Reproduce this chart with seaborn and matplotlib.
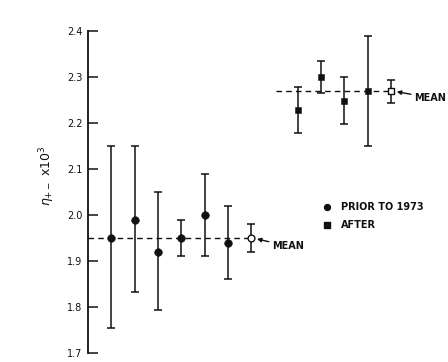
import matplotlib
matplotlib.use("Agg")
import matplotlib.pyplot as plt
import seaborn as sns
import pandas as pd

# Data
prior_x = [1, 2, 3, 4, 5, 6]
prior_y = [1.95, 1.99, 1.92, 1.95, 2.00, 1.94]
prior_lo = [1.754, 1.833, 1.793, 1.91, 1.91, 1.86]
prior_hi = [2.15, 2.15, 2.05, 1.99, 2.09, 2.02]
prior_mean_x = 7
prior_mean = 1.95
prior_mean_lo = 1.92
prior_mean_hi = 1.98

after_x = [9, 10, 11, 12]
after_y = [2.228, 2.299, 2.248, 2.27]
after_lo = [2.179, 2.266, 2.198, 2.149]
after_hi = [2.279, 2.335, 2.299, 2.39]
after_mean_x = 13
after_mean = 2.27
after_mean_lo = 2.243
after_mean_hi = 2.294

yticks = [1.7, 1.8, 1.9, 2.0, 2.1, 2.2, 2.3, 2.4]
ytick_labels = ["1.7", "1.8", "1.9", "2.0", "2.1", "2.2", "2.3", "2.4"]

sns.set_style("white")
plt.rcParams['font.family'] = ['DejaVu Sans']

fig = plt.figure(figsize=(4.48, 3.62), dpi=100)
ax = fig.add_axes([88/448, 9/362, 1 - 88/448, 322/362])
ax.set_xlim(0, 15.45)
ax.set_ylim(1.7, 2.4)

k = "#111111"

def ebars(x, y, lo, hi):
    yerr = [[v - l for v, l in zip(y, lo)], [h - v for v, h in zip(y, hi)]]
    ax.errorbar(x, y, yerr=yerr, fmt="none", ecolor=k, elinewidth=1.1,
                capsize=3, capthick=1.1, zorder=2)

# dashed mean lines
ax.hlines(prior_mean, 0, prior_mean_x, colors=k, linestyles=(0, (4, 3)), linewidth=1.0, zorder=1)
ax.hlines(after_mean, 8.05, after_mean_x, colors=k, linestyles=(0, (4, 3)), linewidth=1.0, zorder=1)

ebars(prior_x, prior_y, prior_lo, prior_hi)
ebars([prior_mean_x], [prior_mean], [prior_mean_lo], [prior_mean_hi])
ebars(after_x, after_y, after_lo, after_hi)
ebars([after_mean_x], [after_mean], [after_mean_lo], [after_mean_hi])

dfp = pd.DataFrame({"x": prior_x, "y": prior_y})
dfa = pd.DataFrame({"x": after_x, "y": after_y})
sns.scatterplot(data=dfp, x="x", y="y", ax=ax, marker="o", s=30, color=k, edgecolor=k, zorder=3)
sns.scatterplot(data=dfa, x="x", y="y", ax=ax, marker="s", s=22, color=k, edgecolor=k, zorder=3)
ax.scatter([prior_mean_x], [prior_mean], marker="o", s=24, facecolor="white", edgecolor=k, linewidth=1, zorder=4)
ax.scatter([after_mean_x], [after_mean], marker="s", s=20, facecolor="white", edgecolor=k, linewidth=1, zorder=4)

# MEAN annotations
ax.annotate("MEAN", xy=(prior_mean_x + 0.25, prior_mean - 0.002), xytext=(prior_mean_x + 0.9, prior_mean - 0.018),
            fontsize=7, fontweight="bold", va="center", ha="left", color=k,
            arrowprops=dict(arrowstyle="-|>", color=k, lw=1, mutation_scale=6, shrinkA=0, shrinkB=0))
ax.annotate("MEAN", xy=(after_mean_x + 0.25, after_mean - 0.002), xytext=(after_mean_x + 1.0, after_mean - 0.015),
            fontsize=7, fontweight="bold", va="center", ha="left", color=k,
            arrowprops=dict(arrowstyle="-|>", color=k, lw=1, mutation_scale=6, shrinkA=0, shrinkB=0))

# legend-like labels
ax.scatter([10.25], [2.017], marker="o", s=18, color=k, clip_on=False)
ax.text(10.85, 2.017, "PRIOR TO 1973", fontsize=7, fontweight="bold", va="center", ha="left", color=k)
ax.scatter([10.25], [1.978], marker="s", s=15, color=k, clip_on=False)
ax.text(10.85, 1.978, "AFTER", fontsize=7, fontweight="bold", va="center", ha="left", color=k)

ax.set_yticks(yticks)
ax.set_yticklabels(ytick_labels, fontsize=7)
ax.set_xticks([])
ax.tick_params(axis="y", direction="in", length=7, width=1.1, colors=k, left=True, pad=4)
for s in ["top", "right", "bottom"]:
    ax.spines[s].set_visible(False)
ax.spines["left"].set_color(k)
ax.spines["left"].set_linewidth(1.3)
ax.set_xlabel("")
ax.set_ylabel(r"$\eta_{+-}$ x10$^3$", fontsize=9, color=k)
ax.yaxis.set_label_coords(-0.085, 0.55)

fig.savefig("out.png", dpi=100)
